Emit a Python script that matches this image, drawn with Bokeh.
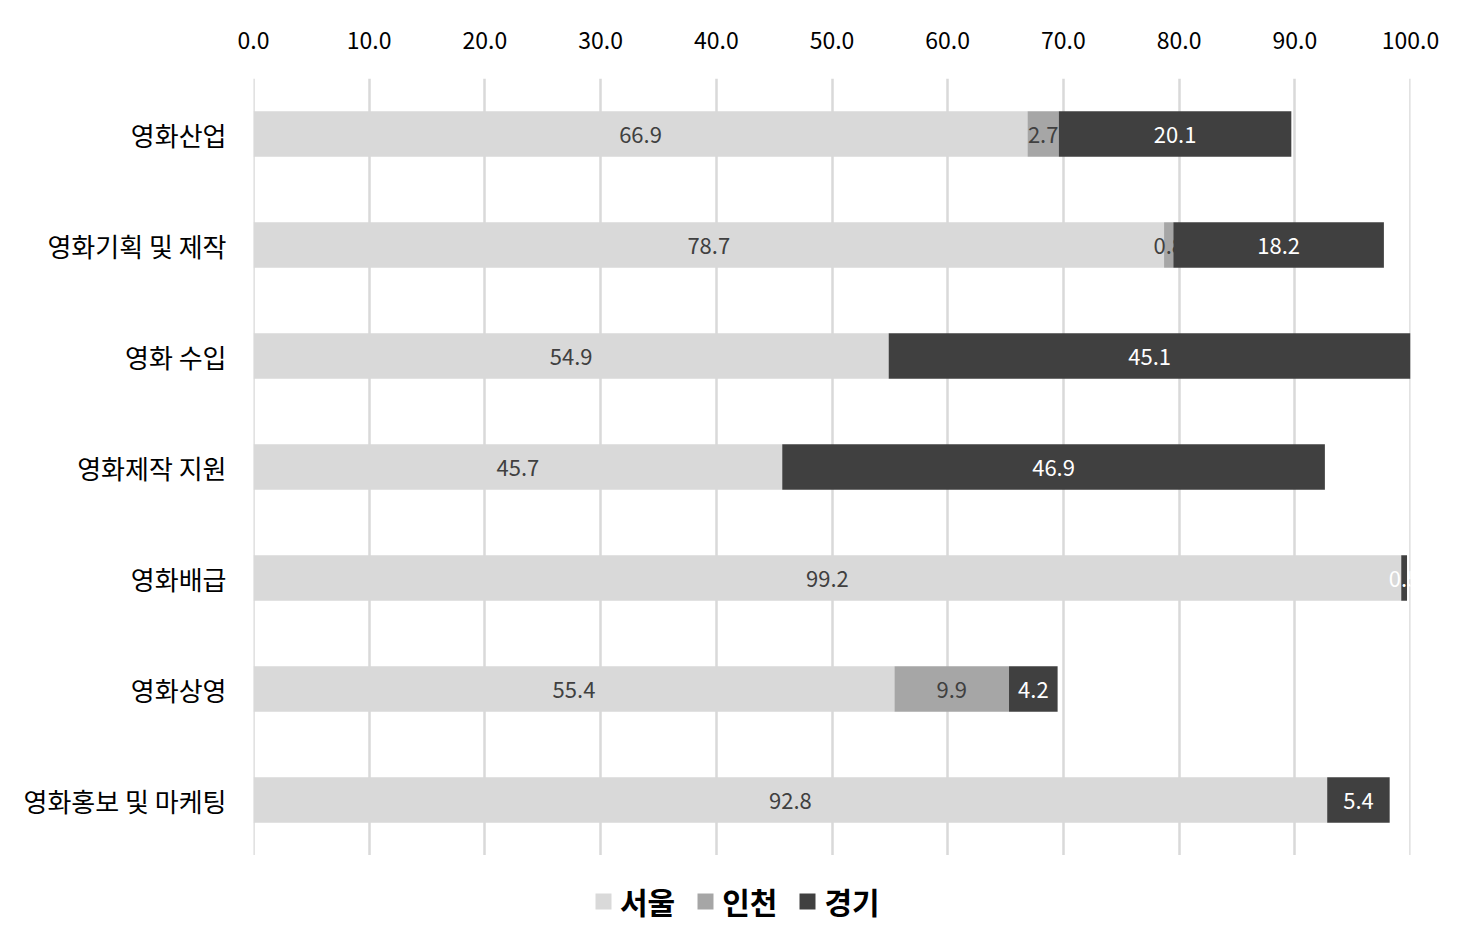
from bokeh.plotting import figure
from bokeh.layouts import column
from bokeh.models import FactorRange, Range1d, Legend, LegendItem, ColumnDataSource, FixedTicker, CustomJSTickFormatter, Span
from bokeh.core.properties import value
from bokeh.embed import file_html
from bokeh.resources import INLINE

categories = ["영화산업", "영화기획 및 제작", "영화 수입", "영화제작 지원", "영화배급", "영화상영", "영화홍보 및 마케팅"]
seoul = [66.9, 78.7, 54.9, 45.7, 99.2, 55.4, 92.8]
incheon = [2.7, 0.8, 0.0, 0.0, 0.0, 9.9, 0.0]
gyeonggi = [20.1, 18.2, 45.1, 46.9, 0.5, 4.2, 5.4]
series_names = ["서울", "인천", "경기"]
colors = ["#d9d9d9", "#a6a6a6", "#404040"]
label_colors = ["#404040", "#404040", "#ffffff"]
x_ticks = [0, 10, 20, 30, 40, 50, 60, 70, 80, 90, 100]

FONT = "Noto Sans CJK KR"
W = 1443

src = ColumnDataSource(dict(cat=categories, 서울=seoul, 인천=incheon, 경기=gyeonggi))

p = figure(width=W, height=855, output_backend="svg", toolbar_location=None,
           y_range=FactorRange(factors=categories[::-1], range_padding=0),
           x_range=Range1d(0, 100), x_axis_location="above")
p.min_border_left = 253
p.min_border_right = 33
p.min_border_top = 78
p.min_border_bottom = 0
p.outline_line_color = None
p.background_fill_color = "white"

# grid lines at the range edges (Bokeh's grid omits them)
for t in (x_ticks[0], x_ticks[-1]):
    p.add_layout(Span(location=t, dimension="height", line_color="#d9d9d9",
                      line_width=2.5, level="underlay"))

renderers = p.hbar_stack(series_names, y="cat", height=0.41, color=colors, source=src, line_color=None)

# data labels
series = [seoul, incheon, gyeonggi]
for si, vals in enumerate(series):
    xs, ys, ts = [], [], []
    for ci, v in enumerate(vals):
        if v <= 0:
            continue
        start = sum(series[k][ci] for k in range(si))
        xs.append(start + v / 2)
        ys.append(categories[ci])
        ts.append(f"{v:.1f}")
    p.text(x=xs, y=ys, text=ts, text_align="center", text_baseline="middle",
           text_font=value(FONT), text_font_size="22px", text_color=label_colors[si],
           y_offset=1)

xa = p.xaxis[0]
xa.ticker = FixedTicker(ticks=x_ticks)
xa.formatter = CustomJSTickFormatter(code="return tick.toFixed(1);")
xa.axis_line_color = None
xa.major_tick_line_color = None
xa.minor_tick_line_color = None
xa.major_label_text_font = FONT
xa.major_label_text_font_size = "23px"
xa.major_label_text_color = "#000000"
xa.major_label_standoff = 24

ya = p.yaxis[0]
ya.axis_line_color = None
ya.major_tick_line_color = None
ya.minor_tick_line_color = None
ya.major_label_text_font = FONT
ya.major_label_text_font_size = "26px"
ya.major_label_text_color = "#000000"
ya.major_label_standoff = 21

p.xgrid.ticker = FixedTicker(ticks=x_ticks)
p.xgrid.grid_line_color = "#d9d9d9"
p.xgrid.grid_line_width = 2.5
p.ygrid.grid_line_color = None

# legend strip below the chart (proxy glyphs sit outside the visible range)
p2 = figure(width=W, height=68, output_backend="svg", toolbar_location=None,
            x_range=Range1d(0, 1), y_range=Range1d(0, 1))
p2.min_border = 0
p2.axis.visible = False
p2.grid.visible = False
p2.outline_line_color = None
leg_rends = [p2.rect(x=[-5], y=[-5], width=1, height=1, color=c, line_color=None) for c in colors]
items = [LegendItem(label=n, renderers=[r]) for n, r in zip(series_names, leg_rends)]
legend = Legend(items=items, orientation="horizontal", location=(340, 0),
                label_text_font=FONT, label_text_font_size="30px", label_text_font_style="bold",
                label_text_color="#000000", glyph_width=20, glyph_height=20,
                spacing=20, label_standoff=7, border_line_color=None,
                background_fill_alpha=0, padding=0, margin=0)
p2.add_layout(legend, "center")

open("out.html", "w").write(file_html(column(p, p2, spacing=0), INLINE))
